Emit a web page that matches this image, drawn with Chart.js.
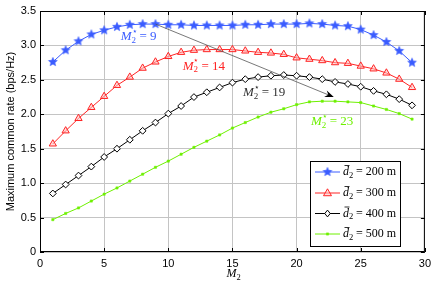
<!DOCTYPE html>
<html>
<head>
<meta charset="utf-8">
<script src="https://cdn.jsdelivr.net/npm/chart.js@4/dist/chart.umd.min.js"></script>
<style>
  html, body { margin: 0; padding: 0; background: #fff; }
  #wrap { width: 436px; height: 282px; }
</style>
</head>
<body>
<div id="wrap"><canvas id="rateChart" width="436" height="282"></canvas></div>
<script>
// number of antennas M2 on the x axis
var M2 = [1,2,3,4,5,6,7,8,9,10,11,12,13,14,15,16,17,18,19,20,21,22,23,24,25,26,27,28,29];

// maximum common rate (bps/Hz) per distance d2
var rate200 = [2.76,2.93,3.06,3.16,3.22,3.27,3.30,3.31,3.31,3.30,3.30,3.29,3.29,3.29,3.29,3.30,3.30,3.31,3.31,3.31,3.32,3.31,3.29,3.28,3.23,3.15,3.05,2.92,2.75];
var rate300 = [1.57,1.76,1.94,2.10,2.26,2.42,2.54,2.67,2.76,2.84,2.90,2.93,2.94,2.94,2.94,2.92,2.90,2.89,2.87,2.82,2.80,2.78,2.75,2.74,2.70,2.66,2.60,2.51,2.39];
var rate400 = [0.85,0.98,1.11,1.24,1.38,1.50,1.63,1.76,1.88,2.01,2.12,2.25,2.32,2.39,2.46,2.51,2.54,2.56,2.57,2.56,2.54,2.51,2.47,2.44,2.40,2.34,2.29,2.22,2.13];
var rate500 = [0.47,0.56,0.64,0.74,0.84,0.93,1.03,1.13,1.23,1.32,1.42,1.52,1.61,1.70,1.80,1.88,1.96,2.03,2.08,2.14,2.18,2.19,2.19,2.18,2.17,2.12,2.07,2.01,1.93];

var seriesDist = ['200', '300', '400', '500'];
var optimumM = ['9', '14', '19', '23'];

var xTicks = [0, 5, 10, 15, 20, 25, 30];
var yTicks = [0, 0.5, 1, 1.5, 2, 2.5, 3, 3.5];

var colBlue = '#3a5cff';
var colRed = '#ff2424';
var colBlack = '#000000';
var colGreen = '#6ef000';

// filled five point star as marker
function makeStar(color, r) {
    var s = Math.ceil(r * 2 + 2);
    var c = document.createElement('canvas');
    c.width = s; c.height = s;
    var g = c.getContext('2d');
    g.beginPath();
    for (var i = 0; i < 10; i++) {
        var a = -Math.PI / 2 + i * Math.PI / 5;
        var rr = (i % 2) ? r * 0.45 : r;
        var px = s / 2 + rr * Math.cos(a), py = s / 2 + rr * Math.sin(a);
        if (i == 0) g.moveTo(px, py); else g.lineTo(px, py);
    }
    g.closePath();
    g.fillStyle = color;
    g.fill();
    g.strokeStyle = color;
    g.lineWidth = 0.6;
    g.stroke();
    return c;
}
var starImg = makeStar(colBlue, 4.6);

function pts(arr) {
    return arr.map(function (v, i) { return { x: M2[i], y: v }; });
}

var serif = '"Liberation Serif", "DejaVu Serif", serif';
var sans = '"Liberation Sans", Arial, sans-serif';

// M_2^* = val
function drawMStar(ctx, x, y, val, color) {
    ctx.save();
    ctx.fillStyle = color;
    ctx.textBaseline = 'middle';
    ctx.textAlign = 'left';
    ctx.font = 'italic 13px ' + serif;
    ctx.fillText('M', x, y);
    var w = ctx.measureText('M').width;
    ctx.font = '9px ' + serif;
    ctx.fillText('2', x + w, y + 4);
    ctx.fillText('\u22C6', x + w, y - 5);
    ctx.font = '13px ' + serif;
    ctx.fillText('= ' + val, x + w + 8, y);
    ctx.restore();
}

// d-bar_2 = dist m
function drawDbar(ctx, x, y, dist) {
    ctx.save();
    ctx.fillStyle = '#000';
    ctx.textBaseline = 'middle';
    ctx.textAlign = 'left';
    ctx.font = 'italic 12px ' + serif;
    ctx.fillText('d', x, y);
    var w = ctx.measureText('d').width;
    ctx.strokeStyle = '#000';
    ctx.lineWidth = 0.8;
    ctx.beginPath();
    ctx.moveTo(x + 1.5, y - 6.5);
    ctx.lineTo(x + w + 0.5, y - 6.5);
    ctx.stroke();
    ctx.font = '8.5px ' + serif;
    ctx.fillText('2', x + w, y + 3.5);
    ctx.font = '12px ' + serif;
    ctx.fillText('= ' + dist + ' m', x + w + 7, y);
    ctx.restore();
}

function drawShape(ctx, style, x, y, r) {
    if (style == 'triangle') {
        ctx.moveTo(x, y - r);
        ctx.lineTo(x + r * 0.95, y + r * 0.65);
        ctx.lineTo(x - r * 0.95, y + r * 0.65);
        ctx.closePath();
    } else if (style == 'rectRot') {
        ctx.moveTo(x, y - r);
        ctx.lineTo(x + r * 0.8, y);
        ctx.lineTo(x, y + r);
        ctx.lineTo(x - r * 0.8, y);
        ctx.closePath();
    } else {
        ctx.rect(x - r * 0.7, y - r * 0.7, r * 1.4, r * 1.4);
    }
}

var extras = {
    id: 'extras',
    afterDatasetsDraw: function (chart) {
        var ctx = chart.ctx, a = chart.chartArea;
        var xs = chart.scales.x, ys = chart.scales.y;

        // box round the axes
        ctx.save();
        ctx.strokeStyle = '#000';
        ctx.lineWidth = 1;
        ctx.strokeRect(a.left + 0.5, a.top + 0.5, a.right - a.left - 1, a.bottom - a.top - 1);
        // inward tick marks on all four sides
        ctx.beginPath();
        xTicks.forEach(function (t) {
            var px = Math.round(xs.getPixelForValue(t)) + 0.5;
            ctx.moveTo(px, a.bottom); ctx.lineTo(px, a.bottom - 4);
            ctx.moveTo(px, a.top); ctx.lineTo(px, a.top + 4);
        });
        yTicks.forEach(function (t) {
            var py = Math.round(ys.getPixelForValue(t)) + 0.5;
            ctx.moveTo(a.left, py); ctx.lineTo(a.left + 4, py);
            ctx.moveTo(a.right, py); ctx.lineTo(a.right - 4, py);
        });
        ctx.stroke();
        ctx.restore();

        // arrow from optimum of 200 m to the optimum of 500 m
        var x0 = xs.getPixelForValue(9), y0 = ys.getPixelForValue(3.31);
        var x1 = xs.getPixelForValue(22.9), y1 = ys.getPixelForValue(2.25);
        var ang = Math.atan2(y1 - y0, x1 - x0);
        ctx.save();
        ctx.strokeStyle = '#555';
        ctx.lineWidth = 0.8;
        ctx.beginPath();
        ctx.moveTo(x0, y0);
        ctx.lineTo(x1 - 6 * Math.cos(ang), y1 - 6 * Math.sin(ang));
        ctx.stroke();
        ctx.fillStyle = '#000';
        ctx.beginPath();
        ctx.moveTo(x1, y1);
        ctx.lineTo(x1 - 9 * Math.cos(ang) + 3.5 * Math.sin(ang), y1 - 9 * Math.sin(ang) - 3.5 * Math.cos(ang));
        ctx.lineTo(x1 - 6 * Math.cos(ang), y1 - 6 * Math.sin(ang));
        ctx.lineTo(x1 - 9 * Math.cos(ang) - 3.5 * Math.sin(ang), y1 - 9 * Math.sin(ang) + 3.5 * Math.cos(ang));
        ctx.closePath();
        ctx.fill();
        ctx.restore();

        // optimum labels
        drawMStar(ctx, xs.getPixelForValue(6.29), ys.getPixelForValue(3.13), optimumM[0], colBlue);
        drawMStar(ctx, xs.getPixelForValue(11.12), ys.getPixelForValue(2.70), optimumM[1], colRed);
        drawMStar(ctx, xs.getPixelForValue(15.82), ys.getPixelForValue(2.32), optimumM[2], '#333');
        drawMStar(ctx, xs.getPixelForValue(21.12), ys.getPixelForValue(1.89), optimumM[3], colGreen);

        // legend
        var lx = 310, ly = 161, lw = 90, lh = 85;
        ctx.save();
        ctx.fillStyle = '#fff';
        ctx.fillRect(lx, ly, lw, lh);
        ctx.strokeStyle = '#000';
        ctx.lineWidth = 1;
        ctx.strokeRect(lx + 0.5, ly + 0.5, lw, lh);
        ctx.restore();
        var rowsY = [172, 193, 213.5, 234];
        chart.data.datasets.forEach(function (ds, i) {
            var yy = rowsY[i];
            ctx.save();
            ctx.strokeStyle = ds.borderColor;
            ctx.lineWidth = 1;
            ctx.beginPath();
            ctx.moveTo(315, yy); ctx.lineTo(340, yy);
            ctx.stroke();
            if (ds.pointStyle == starImg) {
                ctx.drawImage(starImg, 327.5 - starImg.width / 2, yy - starImg.height / 2);
            } else {
                ctx.fillStyle = ds.pointBackgroundColor;
                ctx.strokeStyle = ds.pointBorderColor;
                ctx.lineWidth = ds.pointBorderWidth;
                ctx.beginPath();
                drawShape(ctx, ds.pointStyle, 327.5, yy, ds.pointRadius);
                ctx.fill();
                ctx.stroke();
            }
            ctx.restore();
            drawDbar(ctx, 343, yy, seriesDist[i]);
        });

        // axis titles
        ctx.save();
        ctx.fillStyle = '#000';
        ctx.font = 'italic 12px ' + serif;
        ctx.textBaseline = 'middle';
        ctx.textAlign = 'left';
        var tx = (a.left + a.right) / 2 - 6;
        ctx.fillText('M', tx, 274);
        var mw = ctx.measureText('M').width;
        ctx.font = '8.5px ' + serif;
        ctx.fillText('2', tx + mw, 277.5);
        ctx.translate(11, (a.top + a.bottom) / 2);
        ctx.rotate(-Math.PI / 2);
        ctx.font = '11px ' + sans;
        ctx.textAlign = 'center';
        ctx.fillText('Maximum common rate (bps/Hz)', 0, 0);
        ctx.restore();
    }
};

var chartDiv = document.getElementById('rateChart');
var myChart = new Chart(chartDiv, {
    type: 'line',
    data: {
        datasets: [
            {
                data: pts(rate200), borderColor: colBlue, borderWidth: 1,
                pointStyle: starImg, pointRadius: 4.6, pointBorderWidth: 0,
                pointBackgroundColor: colBlue, pointBorderColor: colBlue
            },
            {
                data: pts(rate300), borderColor: colRed, borderWidth: 1,
                pointStyle: 'triangle', pointRadius: 4.2, pointBorderWidth: 1,
                pointBackgroundColor: 'rgba(255,190,190,0.5)', pointBorderColor: colRed
            },
            {
                data: pts(rate400), borderColor: colBlack, borderWidth: 1,
                pointStyle: 'rectRot', pointRadius: 3.4, pointBorderWidth: 1,
                pointBackgroundColor: '#fff', pointBorderColor: colBlack
            },
            {
                data: pts(rate500), borderColor: colGreen, borderWidth: 1,
                pointStyle: 'rect', pointRadius: 1.6, pointBorderWidth: 0.5,
                pointBackgroundColor: colGreen, pointBorderColor: colGreen
            }
        ]
    },
    options: {
        responsive: false,
        devicePixelRatio: 1,
        animation: false,
        events: [],
        layout: { padding: { top: 11, right: 11, left: 0, bottom: 0 } },
        plugins: { legend: { display: false }, tooltip: { enabled: false } },
        elements: { line: { tension: 0 } },
        scales: {
            x: {
                type: 'linear', min: 0, max: 30,
                afterBuildTicks: function (s) { s.ticks = xTicks.map(function (v) { return { value: v }; }); },
                afterFit: function (s) { s.height = 30; },
                grid: { color: '#c4c4c4', borderDash: [1, 2], drawTicks: false, lineWidth: 1 },
                border: { display: false },
                ticks: { color: '#000', font: { family: sans, size: 11 }, padding: 5, maxRotation: 0 }
            },
            y: {
                type: 'linear', min: 0, max: 3.5,
                afterBuildTicks: function (s) { s.ticks = yTicks.map(function (v) { return { value: v }; }); },
                afterFit: function (s) { s.width = 40; },
                grid: { color: '#c4c4c4', borderDash: [1, 2], drawTicks: false, lineWidth: 1 },
                border: { display: false },
                ticks: { color: '#000', font: { family: sans, size: 11 }, padding: 4 }
            }
        }
    },
    plugins: [extras]
});
</script>
</body>
</html>
